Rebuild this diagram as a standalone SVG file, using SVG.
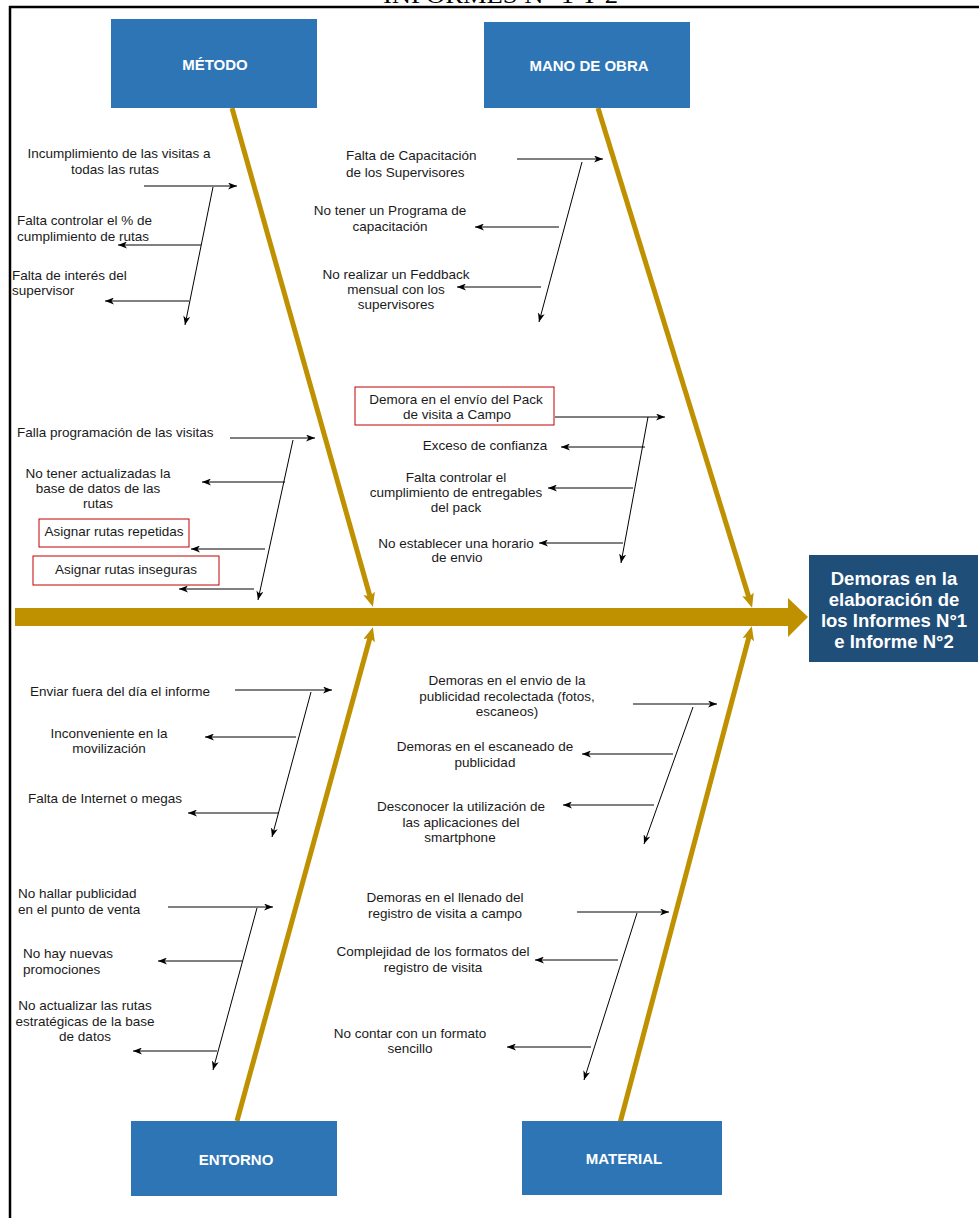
<svg xmlns="http://www.w3.org/2000/svg" width="979" height="1218" viewBox="0 0 979 1218">
<style>
.t{font-family:"Liberation Sans",Arial,sans-serif;font-size:13.5px;fill:#1a1a1a}
.m{text-anchor:middle}
.cat{font-family:"Liberation Sans",Arial,sans-serif;font-size:15px;font-weight:bold;fill:#fff;text-anchor:middle}
.eff{font-family:"Liberation Sans",Arial,sans-serif;font-size:18.5px;font-weight:bold;fill:#fff;text-anchor:middle}
.catbox{fill:#2E75B6}
.bone{stroke:#BF9000;stroke-width:5;fill:none;marker-end:url(#ga)}
.ar{stroke:#000;stroke-width:1;fill:none;marker-end:url(#ba)}
.rb{fill:none;stroke:#C00000;stroke-width:1}
</style>
<defs>
<marker id="ba" markerUnits="userSpaceOnUse" markerWidth="9" markerHeight="7" refX="9" refY="3.5" orient="auto">
<path d="M0,0 L9,3.5 L0,7 L2.5,3.5 z" fill="#000"/>
</marker>
<marker id="ga" markerUnits="userSpaceOnUse" markerWidth="14" markerHeight="12" refX="7" refY="6" orient="auto">
<path d="M0,0 L14,6 L0,12 L3,6 z" fill="#BF9000"/>
</marker>
</defs>
<rect width="979" height="1218" fill="#fff"/>
<text x="383" y="3" textLength="235" lengthAdjust="spacingAndGlyphs" style="font-family:'Liberation Serif','Times New Roman',serif;font-size:24px;fill:#000">INFORMES N° 1 Y 2</text>
<g id="frame" stroke="#000" stroke-width="2.5" fill="none">
<line x1="9" y1="7" x2="979" y2="7"/>
<line x1="10" y1="6" x2="10" y2="1218"/>
</g>
<g id="connectors">
<rect x="15" y="608" width="775" height="18" fill="#BF9000"/>
<polygon points="788,598 808,617 788,637" fill="#BF9000"/>
<line class="bone" x1="232" y1="108" x2="371" y2="600"/>
<line class="bone" x1="598" y1="108" x2="750" y2="601"/>
<line class="bone" x1="237" y1="1121" x2="371" y2="634"/>
<line class="bone" x1="620" y1="1123" x2="750" y2="633"/>
<line class="ar" x1="144" y1="186" x2="237" y2="186"/>
<line class="ar" x1="201" y1="245" x2="118" y2="245"/>
<line class="ar" x1="189" y1="301" x2="105" y2="301"/>
<line class="ar" x1="213" y1="187" x2="185" y2="325"/>
<line class="ar" x1="517" y1="159" x2="603" y2="159"/>
<line class="ar" x1="559" y1="227" x2="475" y2="227"/>
<line class="ar" x1="541" y1="287" x2="457" y2="287"/>
<line class="ar" x1="582" y1="162" x2="539" y2="322"/>
<line class="ar" x1="230" y1="438" x2="315" y2="438"/>
<line class="ar" x1="285" y1="482" x2="202" y2="482"/>
<line class="ar" x1="265" y1="549" x2="191" y2="549"/>
<line class="ar" x1="254" y1="589" x2="179" y2="589"/>
<line class="ar" x1="293" y1="440" x2="258" y2="600"/>
<line class="ar" x1="555" y1="417" x2="665" y2="417"/>
<line class="ar" x1="645" y1="447" x2="561" y2="447"/>
<line class="ar" x1="633" y1="488" x2="548" y2="488"/>
<line class="ar" x1="623" y1="543" x2="539" y2="543"/>
<line class="ar" x1="648" y1="417" x2="621" y2="563"/>
<line class="ar" x1="235" y1="690" x2="332" y2="690"/>
<line class="ar" x1="296" y1="737" x2="205" y2="737"/>
<line class="ar" x1="279" y1="813" x2="188" y2="813"/>
<line class="ar" x1="311" y1="692" x2="272" y2="837"/>
<line class="ar" x1="633" y1="704" x2="717" y2="704"/>
<line class="ar" x1="673" y1="754" x2="582" y2="754"/>
<line class="ar" x1="654" y1="805" x2="563" y2="805"/>
<line class="ar" x1="693" y1="707" x2="644" y2="844"/>
<line class="ar" x1="168" y1="907" x2="273" y2="907"/>
<line class="ar" x1="242" y1="961" x2="158" y2="961"/>
<line class="ar" x1="217" y1="1051" x2="133" y2="1051"/>
<line class="ar" x1="257" y1="908" x2="213" y2="1070"/>
<line class="ar" x1="577" y1="912" x2="669" y2="912"/>
<line class="ar" x1="618" y1="960" x2="535" y2="960"/>
<line class="ar" x1="591" y1="1047" x2="507" y2="1047"/>
<line class="ar" x1="637" y1="913" x2="584" y2="1080"/>
</g>
<g id="metodo">
<rect class="catbox" x="111" y="19" width="206" height="89"/>
<text class="cat" x="215" y="70">MÉTODO</text>
</g>
<g id="mano-de-obra">
<rect class="catbox" x="484" y="22" width="206" height="86"/>
<text class="cat" x="589" y="71">MANO DE OBRA</text>
</g>
<g id="entorno">
<rect class="catbox" x="131" y="1121" width="206" height="75"/>
<text class="cat" x="236" y="1165">ENTORNO</text>
</g>
<g id="material">
<rect class="catbox" x="522" y="1121" width="200" height="74"/>
<text class="cat" x="624" y="1164">MATERIAL</text>
</g>
<g id="efecto">
<rect x="809" y="555" width="169" height="107" fill="#1F4E79"/>
<text class="eff" x="894" y="585">Demoras en la</text>
<text class="eff" x="894" y="606">elaboración de</text>
<text class="eff" x="894" y="627">los Informes N°1</text>
<text class="eff" x="894" y="648">e Informe N°2</text>
</g>
<g id="causa-metodo-1">
<text class="t m" x="119" y="158">Incumplimiento de las visitas a</text>
<text class="t m" x="115" y="174">todas las rutas</text>
</g>
<g id="causa-metodo-2">
<text class="t" x="17" y="225">Falta controlar el % de</text>
<text class="t" x="17" y="241">cumplimiento de rutas</text>
</g>
<g id="causa-metodo-3">
<text class="t" x="12" y="280">Falta de interés del</text>
<text class="t" x="12" y="295">supervisor</text>
</g>
<g id="causa-mano-1">
<text class="t" x="346" y="160">Falta de Capacitación</text>
<text class="t" x="346" y="177">de los Supervisores</text>
</g>
<g id="causa-mano-2">
<text class="t m" x="390" y="215">No tener un Programa de</text>
<text class="t m" x="390" y="231">capacitación</text>
</g>
<g id="causa-mano-3">
<text class="t m" x="396" y="279">No realizar un Feddback</text>
<text class="t m" x="396" y="294">mensual con los</text>
<text class="t m" x="396" y="309">supervisores</text>
</g>
<g id="causa-metodo-4">
<text class="t" x="17" y="437">Falla programación de las visitas</text>
</g>
<g id="causa-metodo-5">
<text class="t m" x="98" y="478">No tener actualizadas la</text>
<text class="t m" x="98" y="493">base de datos de las</text>
<text class="t m" x="98" y="508">rutas</text>
</g>
<g id="causa-metodo-6">
<rect class="rb" x="39" y="519" width="150" height="28"/>
<text class="t m" x="114" y="536">Asignar rutas repetidas</text>
</g>
<g id="causa-metodo-7">
<rect class="rb" x="33" y="556" width="186" height="29"/>
<text class="t m" x="126" y="574">Asignar rutas inseguras</text>
</g>
<g id="causa-mano-4">
<rect class="rb" x="355" y="387" width="199" height="38"/>
<text class="t m" x="456" y="404">Demora en el envío del Pack</text>
<text class="t m" x="457" y="419">de visita a Campo</text>
</g>
<g id="causa-mano-5">
<text class="t m" x="485" y="450">Exceso de confianza</text>
</g>
<g id="causa-mano-6">
<text class="t m" x="456" y="482">Falta controlar el</text>
<text class="t m" x="456" y="497">cumplimiento de entregables</text>
<text class="t m" x="456" y="512">del pack</text>
</g>
<g id="causa-mano-7">
<text class="t m" x="456" y="548">No establecer una horario</text>
<text class="t m" x="457" y="562">de envio</text>
</g>
<g id="causa-entorno-1">
<text class="t m" x="120" y="696">Enviar fuera del día el informe</text>
</g>
<g id="causa-entorno-2">
<text class="t m" x="109" y="738">Inconveniente en la</text>
<text class="t m" x="109" y="753">movilización</text>
</g>
<g id="causa-entorno-3">
<text class="t m" x="105" y="803">Falta de Internet o megas</text>
</g>
<g id="causa-material-1">
<text class="t m" x="507" y="685">Demoras en el envio de la</text>
<text class="t m" x="507" y="701">publicidad recolectada (fotos,</text>
<text class="t m" x="507" y="716">escaneos)</text>
</g>
<g id="causa-material-2">
<text class="t m" x="485" y="751">Demoras en el escaneado de</text>
<text class="t m" x="485" y="767">publicidad</text>
</g>
<g id="causa-material-3">
<text class="t m" x="461" y="811">Desconocer la utilización de</text>
<text class="t m" x="461" y="827">las aplicaciones del</text>
<text class="t m" x="460" y="842">smartphone</text>
</g>
<g id="causa-entorno-4">
<text class="t" x="18" y="898">No hallar publicidad</text>
<text class="t" x="18" y="914">en el punto de venta</text>
</g>
<g id="causa-entorno-5">
<text class="t" x="23" y="958">No hay nuevas</text>
<text class="t" x="23" y="974">promociones</text>
</g>
<g id="causa-entorno-6">
<text class="t m" x="85" y="1010">No actualizar las rutas</text>
<text class="t m" x="85" y="1026">estratégicas de la base</text>
<text class="t m" x="85" y="1041">de datos</text>
</g>
<g id="causa-material-4">
<text class="t m" x="445" y="902">Demoras en el llenado del</text>
<text class="t m" x="445" y="918">registro de visita a campo</text>
</g>
<g id="causa-material-5">
<text class="t m" x="433" y="956">Complejidad de los formatos del</text>
<text class="t m" x="433" y="972">registro de visita</text>
</g>
<g id="causa-material-6">
<text class="t m" x="410" y="1038">No contar con un formato</text>
<text class="t m" x="410" y="1053">sencillo</text>
</g>
</svg>
